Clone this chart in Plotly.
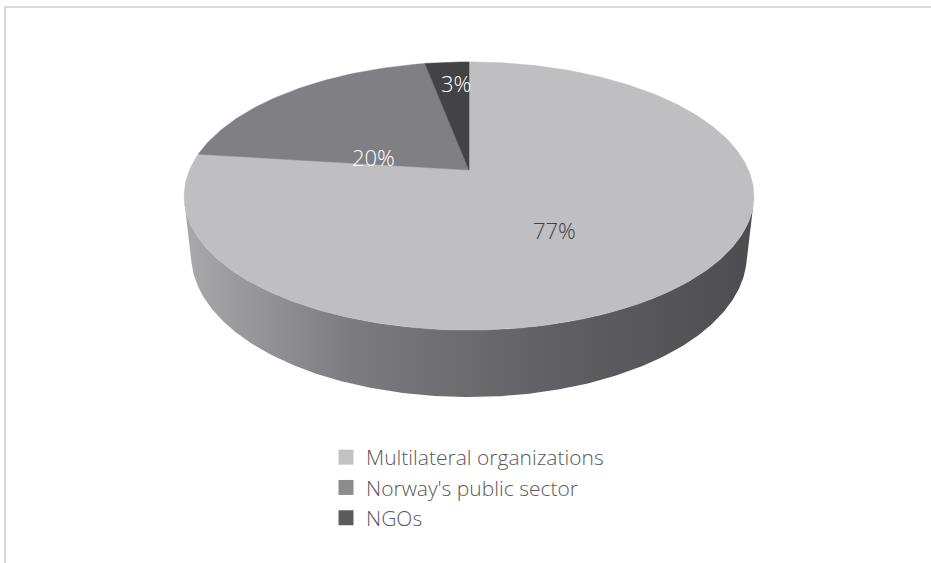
import numpy as np
import plotly.graph_objects as go

# Share of funding by channel (percent)
categories = ["Multilateral organizations", "Norway's public sector", "NGOs"]
shares = [77, 20, 3]

# Styling
top_colors = ["#bfbfc1", "#808084", "#434346"]
legend_colors = ["#c2c2c4", "#8c8c90", "#5c5c5f"]
label_colors = ["#404040", "#ffffff", "#ffffff"]
label_radius = [0.5, 0.5, 0.75]
label_shift = [(-14, -8), (0, -28), (4, 3)]
side_scale = [[0.0, "#a9a9ac"], [0.3, "#7b7b7f"], [0.65, "#606064"], [1.0, "#4d4d51"]]
FONT = "Open Sans"

W, H = 931, 563
# Camera for the 3D disc (pixel space)
CX, CY = 469.0, 170.0      # projected centre of the pie top
ELEV = np.radians(27.5)    # viewing elevation
DIST = 4.573               # camera distance (in pie radii)
FOCAL = 1278.0             # focal length in pixels
DEPTH = 0.24               # disc thickness (in pie radii)


def project(theta, r=1.0, z=0.0):
    """theta: clockwise angle from 12 o'clock (radians)."""
    X = r * np.sin(theta)
    Y = r * np.cos(theta)
    c, s = np.cos(ELEV), np.sin(ELEV)
    d = DIST + Y * c - z * s
    yc = Y * s + z * c
    return CX + FOCAL * X / d, CY - FOCAL * yc / d


fig = go.Figure()

# Slice boundaries from the data
total = float(sum(shares))
bounds = np.concatenate([[0.0], np.cumsum(shares) / total * 2 * np.pi])

# Visible outer wall of the disc (front half, between silhouette generators)
t_sil = np.arccos(-1.0 / (DIST * np.cos(ELEV)))
t_wall = np.linspace(t_sil, 2 * np.pi - t_sil, 300)
xt, yt = project(t_wall, 1.0, 0.0)
xb, yb = project(t_wall[::-1], 1.0, -DEPTH)
fig.add_trace(go.Scatter(
    x=np.concatenate([xt, xb, xt[:1]]), y=np.concatenate([yt, yb, yt[:1]]),
    mode="lines", line=dict(width=0), fill="toself",
    fillgradient=dict(type="horizontal", colorscale=side_scale),
    hoverinfo="skip", showlegend=False))

# Top faces of the slices
for i, name in enumerate(categories):
    a, b = bounds[i], bounds[i + 1]
    t = np.linspace(a, b, max(8, int(400 * (b - a) / (2 * np.pi))))
    xr, yr = project(t)
    x0, y0 = project(0.0, 0.0)
    fig.add_trace(go.Scatter(
        x=np.concatenate([[x0], xr, [x0]]), y=np.concatenate([[y0], yr, [y0]]),
        mode="lines", line=dict(width=0.5, color=top_colors[i]), fill="toself",
        fillcolor=top_colors[i], name=name, hoverinfo="name", showlegend=False))

# Legend entries
for i, name in enumerate(categories):
    fig.add_trace(go.Scatter(
        x=[None], y=[None], mode="markers", name=name,
        marker=dict(symbol="square", size=15, color=legend_colors[i])))

# Percentage labels
for i, v in enumerate(shares):
    mid = (bounds[i] + bounds[i + 1]) / 2
    lx, ly = project(mid, label_radius[i])
    fig.add_annotation(x=lx, y=ly, text=f"{v}%", showarrow=False,
                       xshift=label_shift[i][0], yshift=label_shift[i][1],
                       font=dict(family=FONT, size=22, weight=300,
                                 color=label_colors[i]))

# Chart-area frame
fig.add_shape(type="path", xref="x", yref="y",
              path=f"M5,{H} L5,7 L{W},7", line=dict(color="#d9d9d9", width=2))

fig.update_xaxes(range=[0, W], visible=False, fixedrange=True)
fig.update_yaxes(range=[H, 0], visible=False, fixedrange=True)
fig.update_layout(
    width=W, height=H, margin=dict(l=0, r=0, t=0, b=0),
    paper_bgcolor="white", plot_bgcolor="white",
    font=dict(family=FONT, size=21, color="#595959"),
    legend=dict(x=326 / W, y=1 - 437 / H, xanchor="left", yanchor="top",
                bgcolor="rgba(0,0,0,0)",
                font=dict(size=21, weight=300, color="#595959"),
                tracegroupgap=0),
)

fig.write_html("out.html")
